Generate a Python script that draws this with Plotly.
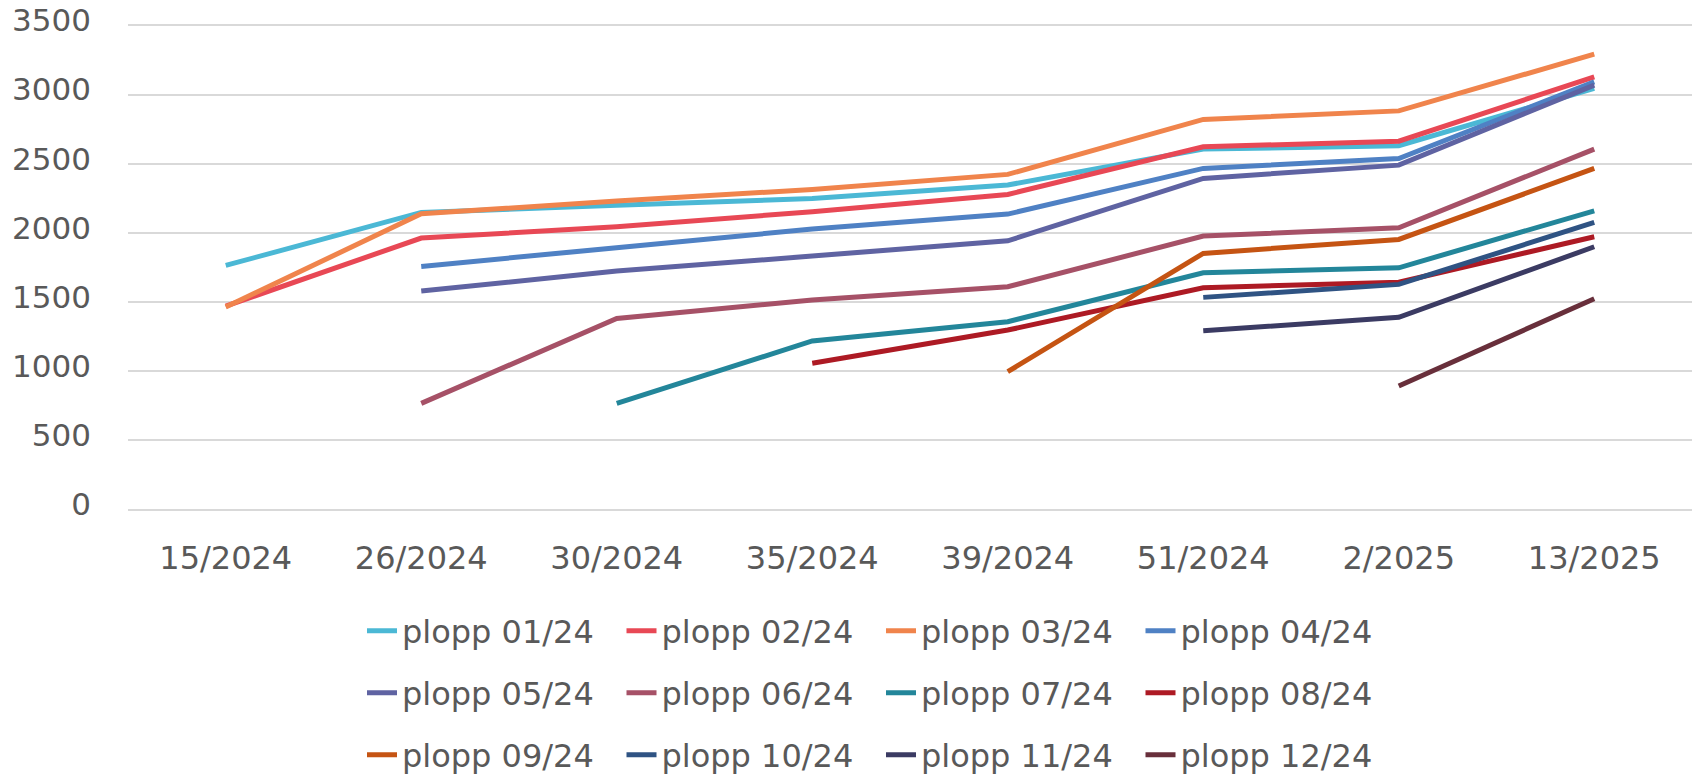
import plotly.graph_objects as go

categories = ["15/2024", "26/2024", "30/2024", "35/2024", "39/2024", "51/2024", "2/2025", "13/2025"]

plopp_01 = [1765, 2148, 2200, 2249, 2346, 2606, 2630, 3044]
plopp_02 = [1471, 1963, 2045, 2153, 2278, 2622, 2663, 3128]
plopp_03 = [1465, 2138, 2230, 2314, 2423, 2820, 2882, 3292]
plopp_04 = [None, 1758, 1896, 2028, 2136, 2466, 2538, 3092]
plopp_05 = [None, 1580, 1724, 1833, 1943, 2394, 2490, 3068]
plopp_06 = [None, 768, 1382, 1515, 1611, 1977, 2037, 2606]
plopp_07 = [None, None, 768, 1219, 1358, 1712, 1748, 2160]
plopp_08 = [None, None, None, 1058, 1298, 1604, 1643, 1972]
plopp_09 = [None, None, None, None, 997, 1852, 1953, 2466]
plopp_10 = [None, None, None, None, None, 1534, 1628, 2076]
plopp_11 = [None, None, None, None, None, 1293, 1390, 1900]
plopp_12 = [None, None, None, None, None, None, 894, 1524]

series_names = ["plopp 01/24", "plopp 02/24", "plopp 03/24", "plopp 04/24",
                "plopp 05/24", "plopp 06/24", "plopp 07/24", "plopp 08/24",
                "plopp 09/24", "plopp 10/24", "plopp 11/24", "plopp 12/24"]
series_values = [plopp_01, plopp_02, plopp_03, plopp_04, plopp_05, plopp_06,
                 plopp_07, plopp_08, plopp_09, plopp_10, plopp_11, plopp_12]
colors = ["#4BB8D5", "#E84855", "#F0844C", "#4F81C4", "#5F63A2", "#A65167",
          "#23869A", "#AD1A24", "#C55413", "#2F5383", "#3B3B63", "#682F3B"]

FONT = "DejaVu Sans"
TXT = "#595959"

fig = go.Figure()
legend_ids = ["legend", "legend2", "legend3"]
for i, (name, vals, col) in enumerate(zip(series_names, series_values, colors)):
    fig.add_trace(go.Scatter(
        x=categories, y=vals, name=name, mode="lines",
        line=dict(color=col, width=5),
        legend=legend_ids[i // 4],
        connectgaps=False,
    ))

leg_common = dict(
    orientation="h", xref="container", yref="container",
    x=362 / 1696, xanchor="left", yanchor="middle",
    font=dict(family=FONT, size=32, color=TXT),
    entrywidth=214.5, entrywidthmode="pixels",
    itemwidth=30, bgcolor="rgba(0,0,0,0)",
)
row_y = [631, 693, 755]

fig.update_layout(
    width=1696, height=775,
    paper_bgcolor="white", plot_bgcolor="white",
    margin=dict(l=128, r=4, t=23.6, b=263.9, autoexpand=False),
    font=dict(family=FONT, size=32, color=TXT),
    showlegend=True,
    legend=dict(leg_common, y=1 - row_y[0] / 775),
    legend2=dict(leg_common, y=1 - row_y[1] / 775),
    legend3=dict(leg_common, y=1 - row_y[2] / 775),
    xaxis=dict(
        type="category", range=[-0.5, 7.5],
        showgrid=False, zeroline=False, showline=False,
        ticks="", ticklabelstandoff=25,
        tickfont=dict(family=FONT, size=32, color=TXT),
    ),
    yaxis=dict(
        range=[-10, 3510], dtick=500, tick0=0,
        showgrid=True, gridcolor="#D9D9D9", gridwidth=1.5,
        zeroline=False, showline=False, ticks="",
        ticklabelstandoff=36, ticklabelshift=-5,
        tickfont=dict(family=FONT, size=31, color=TXT),
    ),
)

fig.write_html("out.html",
               config={"displayModeBar": False},
               post_script="document.body.style.margin='0';document.body.style.overflow='hidden';")
